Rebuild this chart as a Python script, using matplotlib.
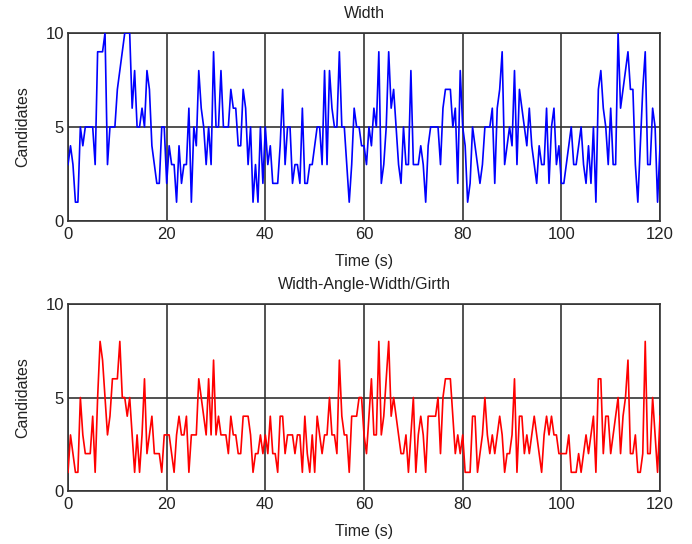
import numpy as np
import matplotlib
matplotlib.use("Agg")
import matplotlib.pyplot as plt

plt.rcParams['font.family'] = ['Liberation Sans', 'DejaVu Sans']

# time base (s)
time_s = np.arange(0, 120.5, 0.5)

# Width candidates (top panel)
width_vals = [
    3, 4, 3, 1, 1, 5, 4, 5, 5, 5, 5, 3, 9, 9, 9, 10, 3, 5, 5, 5,
    7, 8, 9, 10, 10, 10, 6, 8, 5, 5, 6, 5, 8, 7, 4, 3, 2, 2, 5, 5,
    2, 4, 3, 3, 1, 4, 2, 3, 3, 6, 1, 5, 4, 8, 6, 5, 3, 5, 3, 9,
    5, 5, 8, 5, 5, 5, 7, 6, 6, 4, 4, 7, 6, 3, 5, 1, 3, 1, 5, 2,
    5, 3, 4, 2, 2, 2, 4, 7, 3, 5, 5, 2, 3, 3, 2, 6, 2, 2, 3, 3,
    4, 5, 5, 3, 8, 3, 8, 6, 5, 5, 9, 5, 5, 3, 1, 3, 6, 5, 5, 4,
    4, 3, 5, 4, 6, 5, 9, 2, 3, 5, 9, 6, 7, 5, 3, 2, 5, 3, 3, 8,
    3, 3, 3, 4, 3, 1, 4, 5, 5, 5, 5, 3, 6, 7, 7, 7, 5, 6, 2, 8,
    5, 4, 1, 2, 5, 4, 3, 2, 3, 5, 5, 5, 6, 2, 6, 7, 9, 3, 4, 5,
    4, 8, 3, 7, 6, 5, 4, 6, 4, 3, 2, 4, 3, 3, 6, 2, 5, 6, 3, 4,
    2, 2, 3, 4, 5, 3, 3, 4, 5, 3, 2, 4, 2, 5, 1, 7, 8, 6, 5, 3,
    6, 3, 3, 10, 6, 7, 8, 9, 7, 7, 3, 1, 4, 7, 9, 3, 3, 6, 5, 1,
    4,
]

# Width-Angle-Width/Girth candidates (bottom panel)
wawg_vals = [
    1, 3, 2, 1, 1, 5, 3, 2, 2, 2, 4, 1, 5, 8, 7, 5, 3, 4, 6, 6,
    6, 8, 5, 5, 4, 5, 3, 1, 3, 1, 3, 6, 2, 3, 4, 2, 2, 2, 1, 3,
    3, 3, 2, 1, 3, 4, 3, 3, 4, 1, 3, 3, 3, 6, 5, 4, 3, 6, 3, 7,
    3, 4, 3, 3, 3, 2, 4, 3, 3, 2, 2, 4, 4, 4, 3, 1, 2, 2, 3, 2,
    3, 2, 4, 2, 2, 1, 4, 4, 2, 3, 3, 3, 2, 3, 3, 1, 4, 2, 1, 3,
    1, 4, 3, 2, 3, 3, 5, 3, 3, 2, 7, 4, 3, 3, 1, 4, 4, 4, 5, 5,
    3, 2, 4, 6, 3, 3, 8, 3, 4, 6, 8, 4, 5, 4, 3, 2, 2, 3, 1, 3,
    5, 1, 3, 4, 3, 1, 4, 4, 4, 4, 5, 2, 5, 6, 6, 6, 4, 2, 3, 2,
    3, 1, 1, 1, 4, 4, 1, 2, 3, 5, 3, 2, 3, 2, 3, 4, 3, 1, 2, 2,
    3, 6, 1, 4, 4, 2, 3, 2, 3, 4, 3, 2, 1, 3, 4, 3, 4, 3, 3, 2,
    2, 2, 2, 3, 1, 1, 1, 2, 1, 2, 3, 2, 3, 4, 1, 6, 6, 2, 4, 4,
    2, 3, 4, 5, 2, 4, 5, 7, 2, 2, 3, 1, 1, 2, 8, 2, 2, 5, 3, 1,
    4,
]

panel_titles = ["Width", "Width-Angle-Width/Girth"]
panel_colors = ["#0000ff", "#ff0000"]
x_ticks = [0, 20, 40, 60, 80, 100, 120]
y_ticks = [0, 5, 10]

fig = plt.figure(figsize=(6.92, 5.44), dpi=100)
ax_top = fig.add_axes([0.0983, 0.5938, 0.8555, 0.3456])
ax_bot = fig.add_axes([0.0983, 0.0974, 0.8555, 0.3438])

frame_col = "#333333"
for ax, vals, title, col in zip([ax_top, ax_bot], [width_vals, wawg_vals],
                                panel_titles, panel_colors):
    ax.plot(time_s, vals, color=col, lw=1.2, zorder=3, clip_on=True)
    ax.set_xlim(0, 120)
    ax.set_ylim(0, 10)
    ax.set_xticks(x_ticks)
    ax.set_yticks(y_ticks)
    ax.tick_params(axis='x', length=0, labelsize=12, pad=4, colors="#222222")
    ax.tick_params(axis='y', length=0, labelsize=12, pad=3, colors="#222222")
    ax.grid(True, color=frame_col, lw=1.2, zorder=2)
    ax.set_axisbelow(False)
    for sp in ax.spines.values():
        sp.set_color(frame_col)
        sp.set_linewidth(1.2)
    ax.set_title(title, fontsize=11.5, pad=11, color="#222222")
    ax.set_xlabel("Time (s)", fontsize=11.5, labelpad=9, color="#222222")
    ax.set_ylabel("Candidates", fontsize=11.5, labelpad=11, color="#222222")

fig.savefig("out.png", dpi=100)
